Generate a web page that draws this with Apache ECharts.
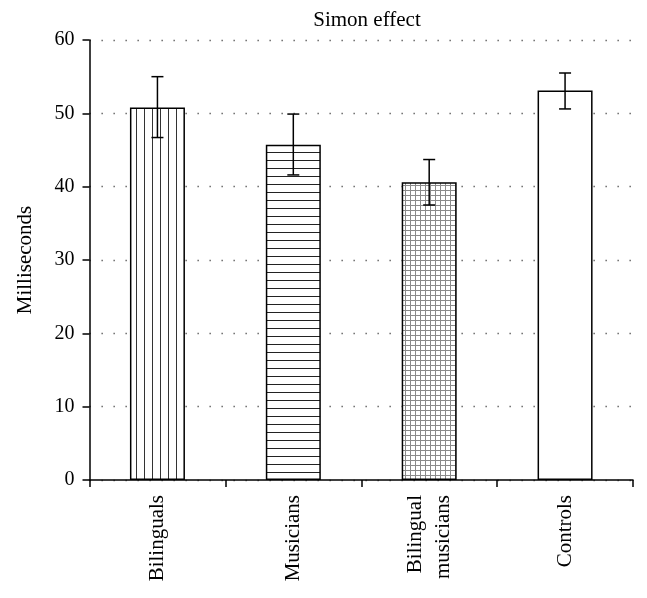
<!DOCTYPE html>
<html><head><meta charset="utf-8">
<script src="https://cdn.jsdelivr.net/npm/echarts@6/dist/echarts.min.js"></script>
<style>html,body{margin:0;padding:0;background:#fff}#c{width:647px;height:598px}</style>
</head><body><div id="c"></div>
<script>
// ---- data ----
const categories = ['Bilinguals', 'Musicians', 'Bilingual\nmusicians', 'Controls'];
const means = [50.8, 45.7, 40.6, 53.1];
const errLow = [46.7, 41.6, 37.5, 50.6];
const errHigh = [55.0, 49.9, 43.7, 55.5];
const yMin = 0, yMax = 60, yInterval = 10;
const titleText = 'Simon effect';
const yName = 'Milliseconds';

// ---- patterns ----
function makePattern(kind) {
  const c = document.createElement('canvas');
  const s = kind === 'grid' ? 5 : 8;
  c.width = s; c.height = s;
  const g = c.getContext('2d');
  g.fillStyle = '#fff'; g.fillRect(0, 0, s, s);
  if (kind === 'v') { g.fillStyle = '#333'; g.fillRect(0, 0, 1, s); }
  if (kind === 'h') { g.fillStyle = '#222'; g.fillRect(0, 0, s, 1); }
  if (kind === 'grid') { g.fillStyle = '#8a8a8a'; g.fillRect(0, 0, 1, s); g.fillRect(0, 0, s, 1); }
  return { image: c, repeat: 'repeat' };
}
const fills = [makePattern('v'), makePattern('h'), makePattern('grid'), '#fff'];

const font = "'Liberation Serif', 'Times New Roman', serif";
const chart = echarts.init(document.getElementById('c'), null, { renderer: 'canvas' });
chart.setOption({
  animation: false,
  backgroundColor: '#fff',
  title: {
    text: titleText, left: 362, top: 5, textAlign: 'center',
    textStyle: { fontFamily: font, fontSize: 21, fontWeight: 'normal', color: '#000' }
  },
  grid: { left: 89.5, right: 14, top: 40, bottom: 118 },
  xAxis: {
    type: 'category', data: categories,
    axisLine: { lineStyle: { color: '#000', width: 1.5 } },
    axisTick: { show: true, length: 7, lineStyle: { color: '#000', width: 1.5 } },
    axisLabel: { rotate: 90, fontFamily: font, fontSize: 21, color: '#000', margin: 15, lineHeight: 28, interval: 0 }
  },
  yAxis: {
    type: 'value', min: yMin, max: yMax, interval: yInterval,
    name: yName, nameLocation: 'middle', nameGap: 54,
    nameTextStyle: { fontFamily: font, fontSize: 21, color: '#000' },
    axisLine: { show: true, lineStyle: { color: '#000', width: 1.5 } },
    axisTick: { show: true, length: 7, lineStyle: { color: '#000', width: 1.5 } },
    axisLabel: { fontFamily: font, fontSize: 20, color: '#000', margin: 15 },
    splitLine: { show: true, lineStyle: { color: '#555', width: 1.3, type: [1.3, 10.7] } }
  },
  series: [
    {
      type: 'bar', barWidth: 55,
      data: means.map((v, i) => ({ value: v, itemStyle: { color: fills[i] } })),
      itemStyle: { borderColor: '#000', borderWidth: 1.5 }
    },
    {
      type: 'custom', z: 10,
      data: categories.map((c, i) => [i, errLow[i], errHigh[i]]),
      encode: { x: 0, y: [1, 2] },
      renderItem: function (params, api) {
        const x = api.value(0);
        const lo = api.coord([x, api.value(1)]);
        const hi = api.coord([x, api.value(2)]);
        const w = 6;
        const st = { stroke: '#000', lineWidth: 1.5 };
        return {
          type: 'group', children: [
            { type: 'line', shape: { x1: lo[0], y1: lo[1], x2: hi[0], y2: hi[1] }, style: st },
            { type: 'line', shape: { x1: lo[0] - w, y1: lo[1], x2: lo[0] + w, y2: lo[1] }, style: st },
            { type: 'line', shape: { x1: hi[0] - w, y1: hi[1], x2: hi[0] + w, y2: hi[1] }, style: st }
          ]
        };
      }
    }
  ]
});
</script>
</body></html>
